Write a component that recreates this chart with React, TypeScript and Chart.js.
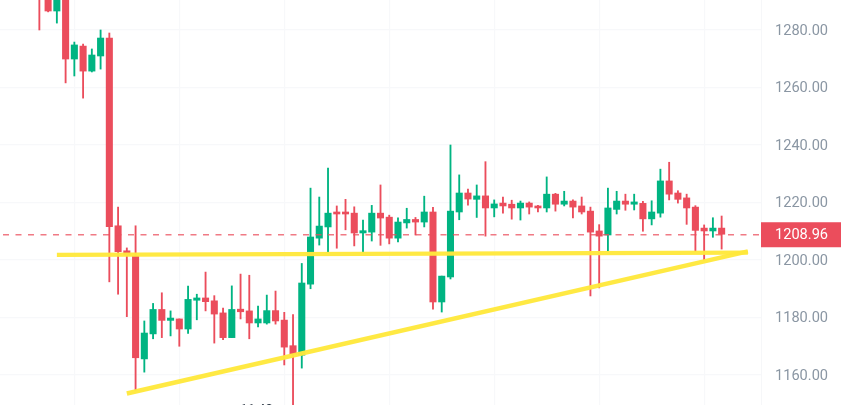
import React, { useEffect, useRef } from "react";
import { Chart, registerables } from "chart.js";

Chart.register(...registerables);

const opens = [1296,1292,1286.6,1294,1269.9,1274.4,1265.7,1270.96,1277.2,1211.9,1203.2,1201.4,1165.6,1174.3,1182.8,1179,1179.5,1176,1186,1186.8,1185.8,1181.6,1173,1182.9,1182.3,1178.1,1178.1,1182.4,1179.1,1170.2,1166.9,1191.6,1207.6,1211.5,1216.7,1216.7,1216.3,1209.4,1209.7,1216.3,1214.9,1207.6,1212.9,1214.1,1213.2,1216.7,1185.4,1194.1,1216.7,1223.3,1221.1,1222.3,1218.1,1219.8,1219.4,1218.1,1219.8,1218.8,1218.1,1222.9,1219.4,1220.5,1218.8,1217,1210.1,1208.7,1217.6,1220.5,1219.4,1219.7,1214.3,1216.3,1227.5,1223.3,1221.6,1218.4,1211.1,1210.1,1211.1];
const highs = [1298,1295,1294,1298,1275.8,1275.1,1273.4,1280,1278.95,1218.4,1204.2,1211.9,1178.8,1184.9,1188.6,1182.3,1179.5,1190.9,1188.1,1195.8,1187.6,1183.3,1191,1195.1,1194.7,1184,1187.8,1189.2,1181.8,1181,1198.8,1225,1221.9,1232,1218.8,1221.1,1218.5,1213.9,1219,1226.1,1215.6,1214.7,1218,1214.8,1222.2,1218.3,1194.4,1240,1229.6,1224.7,1226.1,1234.2,1220.9,1221.9,1220.8,1220.5,1220.2,1219,1228.9,1223.2,1223.9,1220.9,1221.9,1218.4,1212.3,1225,1223.9,1222.9,1222.9,1220.4,1220.6,1231.6,1234,1224.1,1222.9,1218.9,1212.2,1214.7,1215.3];
const lows = [1280,1286.3,1282.4,1261.6,1264,1256.3,1265.4,1266.4,1192.4,1188.1,1180.3,1154.8,1161,1172.6,1173,1173.6,1170,1174.5,1179.2,1182.3,1171.1,1172.3,1173,1179.5,1172.6,1176.7,1177.7,1177.7,1163.5,1147.8,1162.4,1190,1205.2,1202.7,1204.1,1210.5,1204.9,1202.7,1206.6,1205.1,1205.6,1206.3,1211.1,1208.7,1211.5,1182.9,1181.9,1193.4,1214,1219.1,1214.8,1208.3,1215,1216.3,1214.2,1213.9,1216,1216.7,1216.7,1217,1218.8,1214.6,1216,1187.5,1190.3,1203.1,1216,1217.3,1217.4,1210,1212.2,1214.9,1220.9,1219.8,1212.4,1202.9,1200,1207.9,1203.8];
const closes = [1293,1286.6,1292,1269.9,1274.8,1265.7,1271.3,1277.2,1211.6,1202.9,1201.7,1166,1174.6,1182.8,1179,1179.8,1176,1186.3,1186.8,1185.5,1181.2,1173,1182.8,1182,1178.1,1179.5,1182.4,1178.8,1169.7,1167.3,1192,1208,1211.8,1216.3,1216,1216,1209.4,1210.2,1216.3,1214.6,1207.6,1213.2,1214.1,1213.2,1216.7,1185.4,1194.4,1217,1223.3,1221.2,1222.3,1218.1,1219.5,1218.8,1218.1,1219.8,1218.4,1218.1,1222.9,1219.4,1220.5,1218.4,1216.7,1209.7,1208.3,1218.1,1220.5,1219.4,1220.2,1214.3,1216.7,1227.5,1222.9,1221.1,1218.1,1210.3,1210.1,1211.1,1208.96];

const priceTicks = [1160, 1180, 1200, 1220, 1240, 1260, 1280];
const lastPrice = 1208.96;
const leadingSlots = 4;
const trailingSlots = 4;
const timeLabel = "11:40";
const timeLabelCandle = 25;

const levelLine = { from: [6, 1201.75], to: [85, 1202.55] };
const trendLine = { from: [14, 1153.6], to: [85, 1203] };

const RED = "#EB4D5C";
const GREEN = "#00B482";
const GRID = "#F7F8FA";
const TEXT = "#8A96A3";
const YELLOW = "rgba(255,232,59,0.96)";
const FONT = "Roboto";

const slotCount = leadingSlots + opens.length + trailingSlots;
const slots = Array.from({ length: slotCount }, (_, i) => String(i));
const pad = <T,>(values: T[]): (T | null)[] => [
  ...Array(leadingSlots).fill(null),
  ...values,
  ...Array(trailingSlots).fill(null),
];
const barColors = pad(opens.map((o, i) => (closes[i] >= o ? GREEN : RED)));
const segment = (s: { from: number[]; to: number[] }) =>
  slots.map((_, i) => (i === s.from[0] ? s.from[1] : i === s.to[0] ? s.to[1] : null));

const overlay = {
  id: "overlay",
  afterDatasetsDraw(chart: any) {
    const { ctx, chartArea, scales } = chart;
    const y = scales.y.getPixelForValue(lastPrice);
    ctx.save();
    ctx.strokeStyle = "rgba(235,77,92,0.75)";
    ctx.lineWidth = 1.6;
    ctx.setLineDash([6, 6.5]);
    ctx.beginPath();
    ctx.moveTo(3, y + 0.5);
    ctx.lineTo(chartArea.right + 8, y + 0.5);
    ctx.stroke();
    ctx.setLineDash([]);
    ctx.fillStyle = RED;
    ctx.fillRect(chartArea.right, y - 12, 80, 25);
    ctx.fillStyle = "#FFFFFF";
    ctx.font = `14.6px ${FONT}`;
    ctx.textBaseline = "middle";
    ctx.textAlign = "left";
    ctx.fillText(lastPrice.toFixed(2), chartArea.right + 14, y + 1.5);
    ctx.fillStyle = "#1E2A38";
    ctx.textAlign = "center";
    ctx.textBaseline = "alphabetic";
    ctx.font = `13px ${FONT}`;
    const x = scales.x.getPixelForValue(leadingSlots + timeLabelCandle);
    ctx.fillText(timeLabel, x - 1.5, 413);
    ctx.restore();
  },
};

export default function App() {
  const ref = useRef<HTMLCanvasElement | null>(null);
  useEffect(() => {
    const chart = new Chart(ref.current as HTMLCanvasElement, {
      type: "bar",
      data: {
        labels: slots,
        datasets: [
          {
            type: "line",
            data: segment(levelLine),
            borderColor: YELLOW,
            borderWidth: 4.2,
            pointRadius: 0,
            spanGaps: true,
            order: 0,
          },
          {
            type: "line",
            data: segment(trendLine),
            borderColor: YELLOW,
            borderWidth: 4.6,
            pointRadius: 0,
            spanGaps: true,
            order: 0,
          },
          {
            data: pad(opens.map((o, i) => [o, closes[i]])),
            backgroundColor: barColors,
            barThickness: 6.4,
            grouped: false,
            order: 1,
          },
          {
            data: pad(lows.map((l, i) => [l, highs[i]])),
            backgroundColor: barColors,
            barThickness: 1.2,
            grouped: false,
            order: 2,
          },
        ] as any,
      },
      options: {
        responsive: false,
        animation: false,
        maintainAspectRatio: false,
        layout: { padding: 0 },
        plugins: { legend: { display: false }, tooltip: { enabled: false } },
        scales: {
          x: {
            position: "bottom",
            offset: true,
            border: { display: false },
            grid: {
              offset: false,
              drawTicks: false,
              lineWidth: 1.2,
              color: (c: any) => (c.index % 12 === 8 ? GRID : "transparent"),
            },
            ticks: { display: false, autoSkip: false },
            afterFit: (s: any) => {
              s.height = 0;
              s.paddingLeft = 0;
              s.paddingRight = 0;
            },
          },
          y: {
            position: "right",
            min: 1149.57,
            max: 1290.43,
            border: { display: true, color: "#F6F7F9", width: 1 },
            grid: { color: GRID, lineWidth: 1.2, drawTicks: false },
            afterBuildTicks: (s: any) => {
              s.ticks = priceTicks.map((value) => ({ value }));
            },
            afterFit: (s: any) => {
              s.width = 84;
              s.paddingTop = 0;
              s.paddingBottom = 0;
            },
            ticks: {
              color: TEXT,
              padding: 14,
              labelOffset: 1.2,
              font: { family: FONT, size: 14.6 },
              callback: (v: any) => Number(v).toFixed(2),
            },
          },
        },
      } as any,
      plugins: [overlay],
    });
    return () => chart.destroy();
  }, []);
  return (
    <div style={{ position: "fixed", left: 0, top: 0, width: 845, height: 405, background: "#FFFFFF" }}>
      <canvas ref={ref} width={845} height={405} style={{ display: "block" }} />
    </div>
  );
}
